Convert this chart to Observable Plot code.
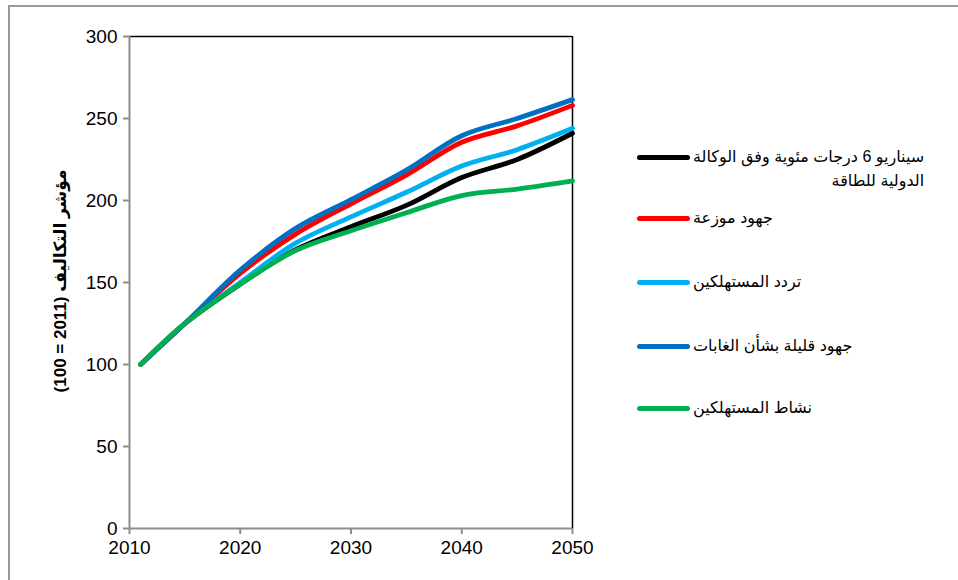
<!DOCTYPE html>
<html>
<head>
<meta charset="utf-8">
<script src="https://cdn.jsdelivr.net/npm/d3@7"></script>
<script src="https://cdn.jsdelivr.net/npm/@observablehq/plot@0.6"></script>
<style>
  html, body { margin: 0; padding: 0; background: #fff; }
  #wrap { position: relative; width: 958px; height: 580px; overflow: hidden; font-family: "Liberation Sans", Arial, "DejaVu Sans", sans-serif; }
  #frame { position: absolute; left: 8px; top: 5px; width: 1200px; height: 800px; border-top: 2px solid #9a9a9a; border-left: 2px solid #9a9a9a; }
  #chart { position: absolute; left: 0; top: 0; }
  .ylab { position: absolute; left: 60px; top: 281px; transform: translate(-50%, -50%) rotate(-90deg); white-space: nowrap; direction: rtl; font-weight: bold; font-size: 17px; color: #000; }
  .sw { position: absolute; left: 637px; width: 53px; height: 5px; border-radius: 3px; }
  .lt { position: absolute; left: 693px; direction: rtl; font-size: 16px; line-height: 24px; color: #000; white-space: nowrap; }
</style>
</head>
<body>
<div id="wrap">
  <div id="frame"></div>
  <div id="chart"></div>
</div>
<script>
const years = [2011, 2015, 2020, 2025, 2030, 2035, 2040, 2045, 2050];
const seriesNames = [
  "سيناريو 6 درجات مئوية وفق الوكالة الدولية للطاقة",
  "جهود موزعة",
  "تردد المستهلكين",
  "جهود قليلة بشأن الغابات",
  "نشاط المستهلكين"
];
const legendLines = [
  ["سيناريو 6 درجات مئوية وفق الوكالة", "الدولية للطاقة"],
  ["جهود موزعة"],
  ["تردد المستهلكين"],
  ["جهود قليلة بشأن الغابات"],
  ["نشاط المستهلكين"]
];
const seriesColors = ["#000000", "#ff0000", "#00b0f0", "#0070c0", "#00b050"];
const iea6 =        [100, 125, 149,   170,   184,   197,   214,   225,   241];
const distributed = [100, 125, 155.5, 179.5, 198,   215.5, 235.5, 245.5, 258];
const hesitation =  [100, 125, 150,   174,   190,   205,   221,   231,   244];
const lowForest =   [100, 125, 157.5, 183,   200.5, 218.5, 239.5, 250,   261.5];
const activity =    [100, 125, 149,   169.5, 181.5, 192.5, 203,   207,   212];
const seriesValues = [iea6, distributed, hesitation, lowForest, activity];
const xTicks = [2010, 2020, 2030, 2040, 2050];
const yTicks = [0, 50, 100, 150, 200, 250, 300];
const yLabelText = "مؤشر التكاليف";
const yLabelUnit = "(100 = 2011)";

const data = [];
seriesNames.forEach((s, i) => years.forEach((y, j) => data.push({series: s, year: y, value: seriesValues[i][j]})));

const chart = Plot.plot({
  width: 958,
  height: 580,
  marginLeft: 129,
  marginRight: 386,
  marginTop: 36,
  marginBottom: 52,
  style: {fontFamily: '"Liberation Sans", Arial, sans-serif', fontSize: "19px", color: "#000", background: "transparent", overflow: "visible"},
  x: {domain: [2010, 2050]},
  y: {domain: [0, 300]},
  color: {domain: seriesNames, range: seriesColors},
  marks: [
    Plot.ruleY([300], {stroke: "#000", strokeWidth: 1.5}),
    Plot.ruleX([2050], {stroke: "#000", strokeWidth: 1.5}),
    Plot.ruleX([2010], {stroke: "#8c8c8c", strokeWidth: 2}),
    Plot.ruleY([0], {stroke: "#8c8c8c", strokeWidth: 2}),
    Plot.axisY({ticks: yTicks, tickSize: 6, tickPadding: 6, stroke: "#8c8c8c", strokeWidth: 2, fill: "#000", label: null}),
    Plot.axisX({ticks: xTicks, tickSize: 6, tickPadding: 6, stroke: "#8c8c8c", strokeWidth: 2, fill: "#000", label: null, tickFormat: d => String(d)}),
    Plot.line(data, {x: "year", y: "value", z: "series", stroke: "series", curve: "catmull-rom", strokeWidth: 4.8, strokeLinecap: "round", strokeLinejoin: "round"})
  ]
});
document.getElementById("chart").appendChild(chart);

const wrap = document.getElementById("wrap");
const ylab = document.createElement("div");
ylab.className = "ylab";
ylab.appendChild(document.createTextNode(yLabelText + " "));
const unit = document.createElement("span");
unit.dir = "ltr";
unit.style.unicodeBidi = "isolate";
unit.textContent = yLabelUnit;
ylab.appendChild(unit);
wrap.appendChild(ylab);

const legendY = [157, 218, 282, 346, 408];
seriesNames.forEach((s, i) => {
  const sw = document.createElement("div");
  sw.className = "sw";
  sw.style.top = (legendY[i] - 2.5) + "px";
  sw.style.background = seriesColors[i];
  wrap.appendChild(sw);
  const t = document.createElement("div");
  t.className = "lt";
  t.style.top = (legendY[i] - 12) + "px";
  legendLines[i].forEach((ln, k) => {
    if (k) t.appendChild(document.createElement("br"));
    t.appendChild(document.createTextNode(ln));
  });
  wrap.appendChild(t);
});
</script>
</body>
</html>
